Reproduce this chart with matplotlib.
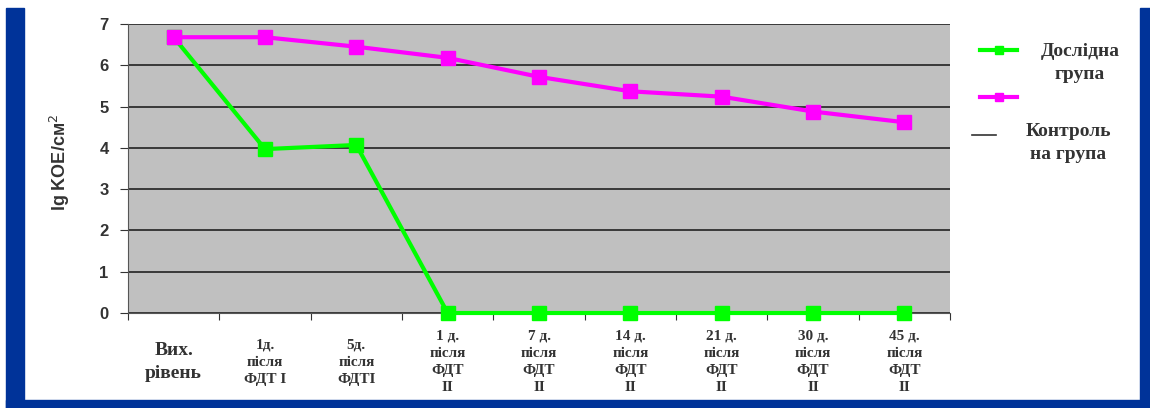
import matplotlib
matplotlib.use("Agg")
import matplotlib.pyplot as plt
from matplotlib.lines import Line2D
from matplotlib.patches import Rectangle
from matplotlib.transforms import blended_transform_factory

categories = ["Вих.\nрівень", "1д.\nпісля\nФДТ I", "5д.\nпісля\nФДТІ",
              "1 д.\nпісля\nФДТ\nІІ", "7 д.\nпісля\nФДТ\nІІ", "14 д.\nпісля\nФДТ\nІІ",
              "21 д.\nпісля\nФДТ\nІІ", "30 д.\nпісля\nФДТ\nІІ", "45 д.\nпісля\nФДТ\nІІ"]
experimental = [6.68, 3.97, 4.07, 0, 0, 0, 0, 0, 0]
control = [6.68, 6.68, 6.45, 6.18, 5.72, 5.37, 5.24, 4.88, 4.62]
y_ticks = [0, 1, 2, 3, 4, 5, 6, 7]
legend_labels = ["Дослідна\nгрупа", "", "Контроль\nна група"]

W, H = 1150, 408
fig = plt.figure(figsize=(W / 100, H / 100), dpi=100)
fig.patch.set_facecolor("white")


def fx(px):
    return px / W


def fy(py):
    return 1 - py / H


# blue frame
blue = "#003399"
fig.patches.append(Rectangle((fx(6), 0), 18 / W, 1 - 8 / H, transform=fig.transFigure, color=blue, zorder=0))
fig.patches.append(Rectangle((fx(1140), 0), 10 / W, 1 - 8 / H, transform=fig.transFigure, color=blue, zorder=0))
fig.patches.append(Rectangle((fx(6), 0), 1144 / W, 8 / H, transform=fig.transFigure, color=blue, zorder=0))

left, right, top, bottom = 128, 950, 24, 313
ax = fig.add_axes([fx(left), fy(bottom), (right - left) / W, (bottom - top) / H])
ax.set_facecolor("#C0C0C0")

green, magenta = "#00FF00", "#FF00FF"
x = list(range(len(categories)))
ax.plot(x, experimental, color=green, lw=3, marker="s", ms=10, zorder=3, clip_on=False)
ax.plot(x, control, color=magenta, lw=3, marker="s", ms=10, zorder=3, clip_on=False)

ax.set_xlim(-0.5, len(categories) - 0.5)
ax.set_ylim(0, 7)
ax.set_yticks(y_ticks)
ax.yaxis.grid(True, color="#222222", lw=1.2)
ax.set_axisbelow(True)
for s in ["top", "right"]:
    ax.spines[s].set_visible(False)
ax.spines["left"].set_color("#555555")
ax.spines["bottom"].set_color("#555555")
ax.tick_params(axis="y", length=6, color="#333333", labelsize=12, labelcolor="#333333", pad=8)
for t in ax.get_yticklabels():
    t.set_fontfamily("Liberation Sans")
    t.set_fontweight("bold")

# category ticks sit between categories
ax.set_xticks([i - 0.5 for i in range(len(categories) + 1)])
ax.set_xticklabels([])
ax.tick_params(axis="x", length=5, color="#333333", direction="out")

# category names, one text per line, centred under each point
label_tr = blended_transform_factory(ax.transData, fig.transFigure)
for i, name in enumerate(categories):
    lines = name.split("\n")
    step = 23 if i == 0 else 17
    size = 14 if i == 0 else 11
    first = 362 - step * (len(lines) - 1) / 2
    for k, line in enumerate(lines):
        ax.text(i, fy(first + k * step), line, transform=label_tr, ha="center",
                va="center", family="Liberation Serif", fontweight="bold",
                color="#333333", fontsize=size, clip_on=False)

fig.text(fx(60), fy(162), "lg KOE/см$^2$", rotation=90, ha="center", va="center",
         fontsize=13, fontweight="bold", family="Liberation Sans", color="#333333")

# legend
leg_font = dict(family="Liberation Serif", fontweight="bold", fontsize=14, color="#333333")
fig.add_artist(Line2D([fx(980), fx(1017)], [fy(50), fy(50)], color=green, lw=3,
                      transform=fig.transFigure))
fig.add_artist(Line2D([fx(998.5)], [fy(50)], color=green, marker="s", ms=6, lw=0,
                      transform=fig.transFigure))
fig.add_artist(Line2D([fx(980), fx(1017)], [fy(97), fy(97)], color=magenta, lw=3,
                      transform=fig.transFigure))
fig.add_artist(Line2D([fx(998.5)], [fy(97)], color=magenta, marker="s", ms=6, lw=0,
                      transform=fig.transFigure))
fig.add_artist(Line2D([fx(972), fx(996)], [fy(135), fy(135)], color="#333333", lw=1.2,
                      transform=fig.transFigure))
fig.text(fx(1080), fy(43), legend_labels[0], ha="center", va="top", linespacing=1.45,
         **leg_font)
fig.text(fx(1068), fy(123), legend_labels[2], ha="center", va="top", linespacing=1.45,
         **leg_font)

fig.savefig("out.png", dpi=100)
